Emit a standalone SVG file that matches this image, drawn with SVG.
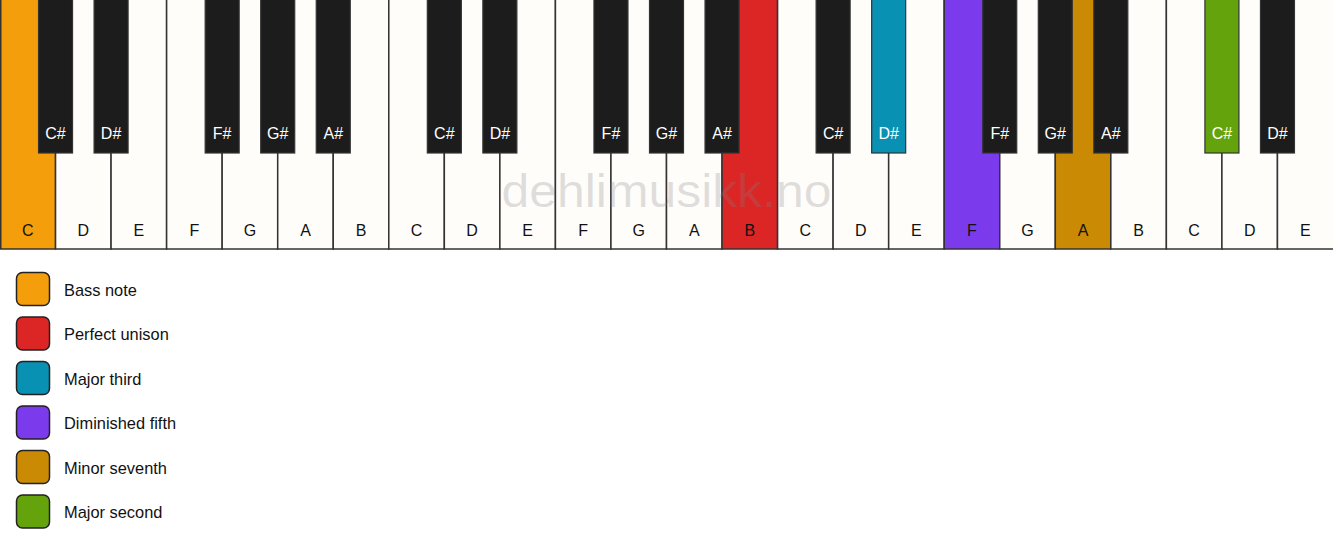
<svg xmlns="http://www.w3.org/2000/svg" width="1333" height="550" viewBox="0 0 1333 550">
<style>
.w{fill:#fffdfa;stroke:#333;stroke-width:1.5}
.b{fill:#1c1c1c;stroke:#333;stroke-width:1.2}
.wl{font-family:"Liberation Sans",Arial,sans-serif;font-size:16px;fill:#111;text-anchor:middle}
.bl{font-family:"Liberation Sans",Arial,sans-serif;font-size:16px;fill:#fff;text-anchor:middle}
.lg{stroke:#222;stroke-width:1.5}
.lt{font-family:"Liberation Sans",Arial,sans-serif;font-size:16.4px;fill:#111}
.wm{font-family:"Liberation Sans",Arial,sans-serif;font-size:46px;fill:#808080;fill-opacity:0.25;text-anchor:middle}
</style>
<rect width="1333" height="550" fill="#ffffff"/>
<g id="white-keys">
<rect class="w" x="0.75" y="-2" width="54.79" height="251" style="fill:#f59e0b"/>
<rect class="w" x="55.54" y="-2" width="55.54" height="251"/>
<rect class="w" x="111.08" y="-2" width="55.54" height="251"/>
<rect class="w" x="166.62" y="-2" width="55.54" height="251"/>
<rect class="w" x="222.17" y="-2" width="55.54" height="251"/>
<rect class="w" x="277.71" y="-2" width="55.54" height="251"/>
<rect class="w" x="333.25" y="-2" width="55.54" height="251"/>
<rect class="w" x="388.79" y="-2" width="55.54" height="251"/>
<rect class="w" x="444.33" y="-2" width="55.54" height="251"/>
<rect class="w" x="499.87" y="-2" width="55.54" height="251"/>
<rect class="w" x="555.42" y="-2" width="55.54" height="251"/>
<rect class="w" x="610.96" y="-2" width="55.54" height="251"/>
<rect class="w" x="666.5" y="-2" width="55.54" height="251"/>
<rect class="w" x="722.04" y="-2" width="55.54" height="251" style="fill:#dc2626"/>
<rect class="w" x="777.58" y="-2" width="55.54" height="251"/>
<rect class="w" x="833.12" y="-2" width="55.54" height="251"/>
<rect class="w" x="888.67" y="-2" width="55.54" height="251"/>
<rect class="w" x="944.21" y="-2" width="55.54" height="251" style="fill:#7c3aed"/>
<rect class="w" x="999.75" y="-2" width="55.54" height="251"/>
<rect class="w" x="1055.29" y="-2" width="55.54" height="251" style="fill:#ca8a04"/>
<rect class="w" x="1110.83" y="-2" width="55.54" height="251"/>
<rect class="w" x="1166.37" y="-2" width="55.54" height="251"/>
<rect class="w" x="1221.92" y="-2" width="55.54" height="251"/>
<rect class="w" x="1277.46" y="-2" width="56.54" height="251"/>
<g id="white-labels">
<text class="wl" x="27.77" y="236">C</text>
<text class="wl" x="83.31" y="236">D</text>
<text class="wl" x="138.85" y="236">E</text>
<text class="wl" x="194.4" y="236">F</text>
<text class="wl" x="249.94" y="236">G</text>
<text class="wl" x="305.48" y="236">A</text>
<text class="wl" x="361.02" y="236">B</text>
<text class="wl" x="416.56" y="236">C</text>
<text class="wl" x="472.1" y="236">D</text>
<text class="wl" x="527.65" y="236">E</text>
<text class="wl" x="583.19" y="236">F</text>
<text class="wl" x="638.73" y="236">G</text>
<text class="wl" x="694.27" y="236">A</text>
<text class="wl" x="749.81" y="236">B</text>
<text class="wl" x="805.35" y="236">C</text>
<text class="wl" x="860.9" y="236">D</text>
<text class="wl" x="916.44" y="236">E</text>
<text class="wl" x="971.98" y="236">F</text>
<text class="wl" x="1027.52" y="236">G</text>
<text class="wl" x="1083.06" y="236">A</text>
<text class="wl" x="1138.6" y="236">B</text>
<text class="wl" x="1194.15" y="236">C</text>
<text class="wl" x="1249.69" y="236">D</text>
<text class="wl" x="1305.23" y="236">E</text>
</g>
</g>
<g id="black-keys">
<rect class="b" x="38.54" y="-2" width="34" height="155"/>
<rect class="b" x="94.08" y="-2" width="34" height="155"/>
<rect class="b" x="205.17" y="-2" width="34" height="155"/>
<rect class="b" x="260.71" y="-2" width="34" height="155"/>
<rect class="b" x="316.25" y="-2" width="34" height="155"/>
<rect class="b" x="427.33" y="-2" width="34" height="155"/>
<rect class="b" x="482.87" y="-2" width="34" height="155"/>
<rect class="b" x="593.96" y="-2" width="34" height="155"/>
<rect class="b" x="649.5" y="-2" width="34" height="155"/>
<rect class="b" x="705.04" y="-2" width="34" height="155"/>
<rect class="b" x="816.12" y="-2" width="34" height="155"/>
<rect class="b" x="871.67" y="-2" width="34" height="155" style="fill:#0891b2"/>
<rect class="b" x="982.75" y="-2" width="34" height="155"/>
<rect class="b" x="1038.29" y="-2" width="34" height="155"/>
<rect class="b" x="1093.83" y="-2" width="34" height="155"/>
<rect class="b" x="1204.92" y="-2" width="34" height="155" style="fill:#65a30d"/>
<rect class="b" x="1260.46" y="-2" width="34" height="155"/>
<g id="black-labels">
<text class="bl" x="55.54" y="139">C#</text>
<text class="bl" x="111.08" y="139">D#</text>
<text class="bl" x="222.17" y="139">F#</text>
<text class="bl" x="277.71" y="139">G#</text>
<text class="bl" x="333.25" y="139">A#</text>
<text class="bl" x="444.33" y="139">C#</text>
<text class="bl" x="499.87" y="139">D#</text>
<text class="bl" x="610.96" y="139">F#</text>
<text class="bl" x="666.5" y="139">G#</text>
<text class="bl" x="722.04" y="139">A#</text>
<text class="bl" x="833.12" y="139">C#</text>
<text class="bl" x="888.67" y="139">D#</text>
<text class="bl" x="999.75" y="139">F#</text>
<text class="bl" x="1055.29" y="139">G#</text>
<text class="bl" x="1110.83" y="139">A#</text>
<text class="bl" x="1221.92" y="139">C#</text>
<text class="bl" x="1277.46" y="139">D#</text>
</g>
</g>
<text id="watermark" class="wm" x="666.5" y="207" textLength="330" lengthAdjust="spacingAndGlyphs">dehlimusikk.no</text>
<g id="legend">
<g id="legend-bass"><rect class="lg" x="16.5" y="272.5" width="33" height="33" rx="6" fill="#f59e0b"/><text class="lt" x="64" y="295.5">Bass note</text></g>
<g id="legend-unison"><rect class="lg" x="16.5" y="317" width="33" height="33" rx="6" fill="#dc2626"/><text class="lt" x="64" y="340">Perfect unison</text></g>
<g id="legend-third"><rect class="lg" x="16.5" y="361.5" width="33" height="33" rx="6" fill="#0891b2"/><text class="lt" x="64" y="384.5">Major third</text></g>
<g id="legend-fifth"><rect class="lg" x="16.5" y="406" width="33" height="33" rx="6" fill="#7c3aed"/><text class="lt" x="64" y="429">Diminished fifth</text></g>
<g id="legend-seventh"><rect class="lg" x="16.5" y="450.5" width="33" height="33" rx="6" fill="#ca8a04"/><text class="lt" x="64" y="473.5">Minor seventh</text></g>
<g id="legend-second"><rect class="lg" x="16.5" y="495" width="33" height="33" rx="6" fill="#65a30d"/><text class="lt" x="64" y="518">Major second</text></g>
</g>
<g id="connectors"/>
</svg>
